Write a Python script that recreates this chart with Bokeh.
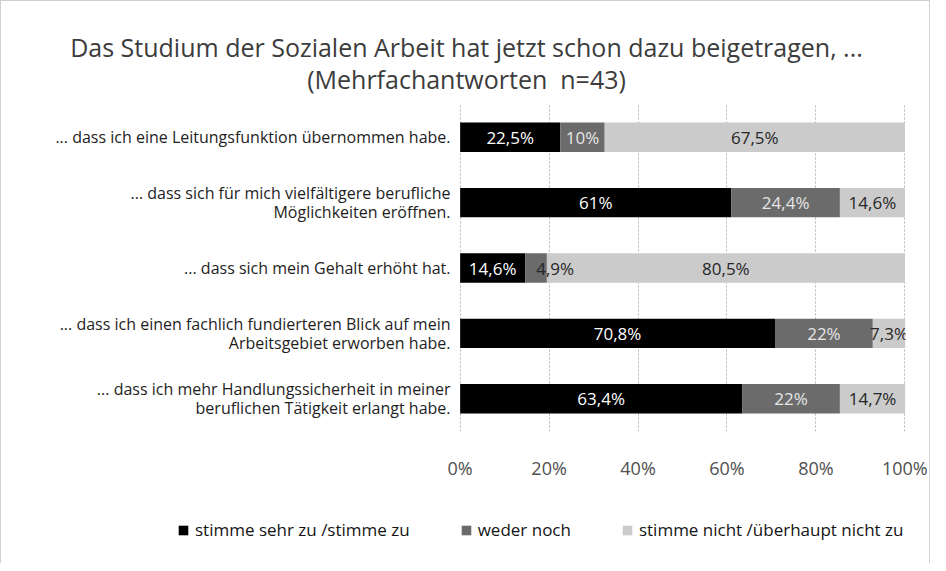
from bokeh.plotting import figure
from bokeh.models import (ColumnDataSource, FactorRange, Range1d, FixedTicker,
                          PrintfTickFormatter, Legend, LegendItem, Title)
from bokeh.core.properties import value
from bokeh.embed import file_html
from bokeh.resources import INLINE

# ---------------- data ----------------
categories = [
    "... dass ich eine Leitungsfunktion übernommen habe.",
    "... dass sich für mich vielfältigere berufliche\nMöglichkeiten eröffnen.",
    "... dass sich mein Gehalt erhöht hat.",
    "... dass ich einen fachlich fundierteren Blick auf mein\nArbeitsgebiet erworben habe.",
    "... dass ich mehr Handlungssicherheit in meiner\nberuflichen Tätigkeit erlangt habe.",
]
zustimmung = [22.5, 61.0, 14.6, 70.8, 63.4]
weder_noch = [10.0, 24.4, 4.9, 22.0, 22.0]
ablehnung = [67.5, 14.6, 80.5, 7.3, 14.7]
series_names = ["stimme sehr zu /stimme zu", "weder noch",
                "stimme nicht /überhaupt nicht zu"]
x_ticks = [0, 20, 40, 60, 80, 100]
title_line1 = "Das Studium der Sozialen Arbeit hat jetzt schon dazu beigetragen, ..."
title_line2 = "(Mehrfachantworten\u00a0\u00a0n=43)"

colors = ["#000000", "#6b6b6b", "#cbcbcb"]
label_colors = ["#ffffff", "#e6e6e6", "#262626"]
FONT = "Open Sans"
W = 930
EDGE = "1px solid #d0d0d0"


def blank(fig):
    fig.xaxis.visible = False
    fig.yaxis.visible = False
    fig.grid.visible = False
    fig.outline_line_color = None


# ---------------- header (title) ----------------
header = figure(width=W, height=104, x_range=Range1d(0, 1), y_range=Range1d(0, 1),
                output_backend="svg", toolbar_location=None,
                min_border_left=0, min_border_right=0, min_border_top=94,
                min_border_bottom=0,
                styles={"border-left": EDGE, "border-top": EDGE, "border-right": EDGE})
blank(header)
header.title.text = title_line1
header.title.align = "center"
header.title.text_font = FONT
header.title.text_font_size = "25px"
header.title.text_font_style = "normal"
header.title.text_color = "#3c3c3c"
header.title.text_line_height = 1.0
header.title.standoff = -9
header.add_layout(Title(text=title_line2, align="center", text_font=FONT,
                        text_font_size="25px", text_font_style="normal",
                        text_color="#3c3c3c", text_line_height=1.0,
                        standoff=0), "above")

# ---------------- main chart ----------------
p = figure(width=W, height=378,
           y_range=FactorRange(*reversed(categories), range_padding=0),
           x_range=Range1d(-0.15, 100.15),
           output_backend="svg", toolbar_location=None,
           min_border_left=458, min_border_right=26,
           min_border_top=0, min_border_bottom=43,
           styles={"border-left": EDGE, "border-right": EDGE})

keys = ["z", "w", "a"]
src = ColumnDataSource(dict(cat=categories, z=zustimmung, w=weder_noch, a=ablehnung))
renderers = p.hbar_stack(keys, y="cat", height=0.45, color=colors,
                         line_color=None, source=src)

# value labels
lx, ly, lt, lc, la = [], [], [], [], []
for i, c in enumerate(categories):
    left = 0.0
    for k, vals in enumerate([zustimmung, weder_noch, ablehnung]):
        v = vals[i]
        narrow = v < 6
        lx.append(left + 2.5 if narrow else left + v / 2.0)
        la.append("left" if narrow else "center")
        ly.append(c)
        lt.append(f"{v:g}".replace(".", ",") + "%")
        lc.append("#262626" if narrow else label_colors[k])
        left += v
lsrc = ColumnDataSource(dict(x=lx, y=ly, t=lt, c=lc, a=la))
p.text(x="x", y="y", text="t", text_color="c", text_align="a", source=lsrc,
       text_baseline="middle", text_font=value(FONT), text_font_size="17px")

p.xaxis.ticker = FixedTicker(ticks=x_ticks)
p.xaxis.formatter = PrintfTickFormatter(format="%d%%")
p.xaxis.major_label_text_font = FONT
p.xaxis.major_label_text_font_size = "18px"
p.xaxis.major_label_text_color = "#505050"
p.xaxis.axis_line_color = None
p.xaxis.major_tick_line_color = None
p.xaxis.minor_tick_line_color = None
p.xaxis.major_label_standoff = 18

p.yaxis.major_label_text_font = FONT
p.yaxis.major_label_text_font_size = "16px"
p.yaxis.major_label_text_color = "#1e1e1e"
p.yaxis.major_label_text_line_height = 0.85
p.yaxis.axis_line_color = None
p.yaxis.major_tick_line_color = None
p.yaxis.major_label_standoff = 3

p.xgrid.grid_line_color = "#b4b4b4"
p.xgrid.grid_line_dash = "2 2"
p.ygrid.grid_line_color = None
p.outline_line_color = None

# ---------------- legend strip ----------------
lf = figure(width=W, height=81, x_range=Range1d(0, 1), y_range=Range1d(0, 1),
            output_backend="svg", toolbar_location=None,
            min_border_left=0, min_border_right=0, min_border_top=0,
            min_border_bottom=0,
            styles={"border-left": EDGE, "border-right": EDGE})
blank(lf)
# legend keys: their bars lie outside the visible range, only the swatches show
dummies = [lf.hbar(y=[5], left=[2], right=[3], height=0.5, color=c, line_color=None)
           for c in colors]
legend = Legend(items=[LegendItem(label=n, renderers=[r])
                       for n, r in zip(series_names, dummies)],
                orientation="horizontal", location=(176, 22),
                border_line_color=None, background_fill_alpha=0,
                padding=0, margin=0, spacing=50,
                glyph_width=12, glyph_height=12, label_standoff=6,
                label_text_font=FONT, label_text_font_size="17px",
                label_text_color="#141414")
lf.add_layout(legend)

open("out.html", "w").write(file_html([header, p, lf], INLINE))
